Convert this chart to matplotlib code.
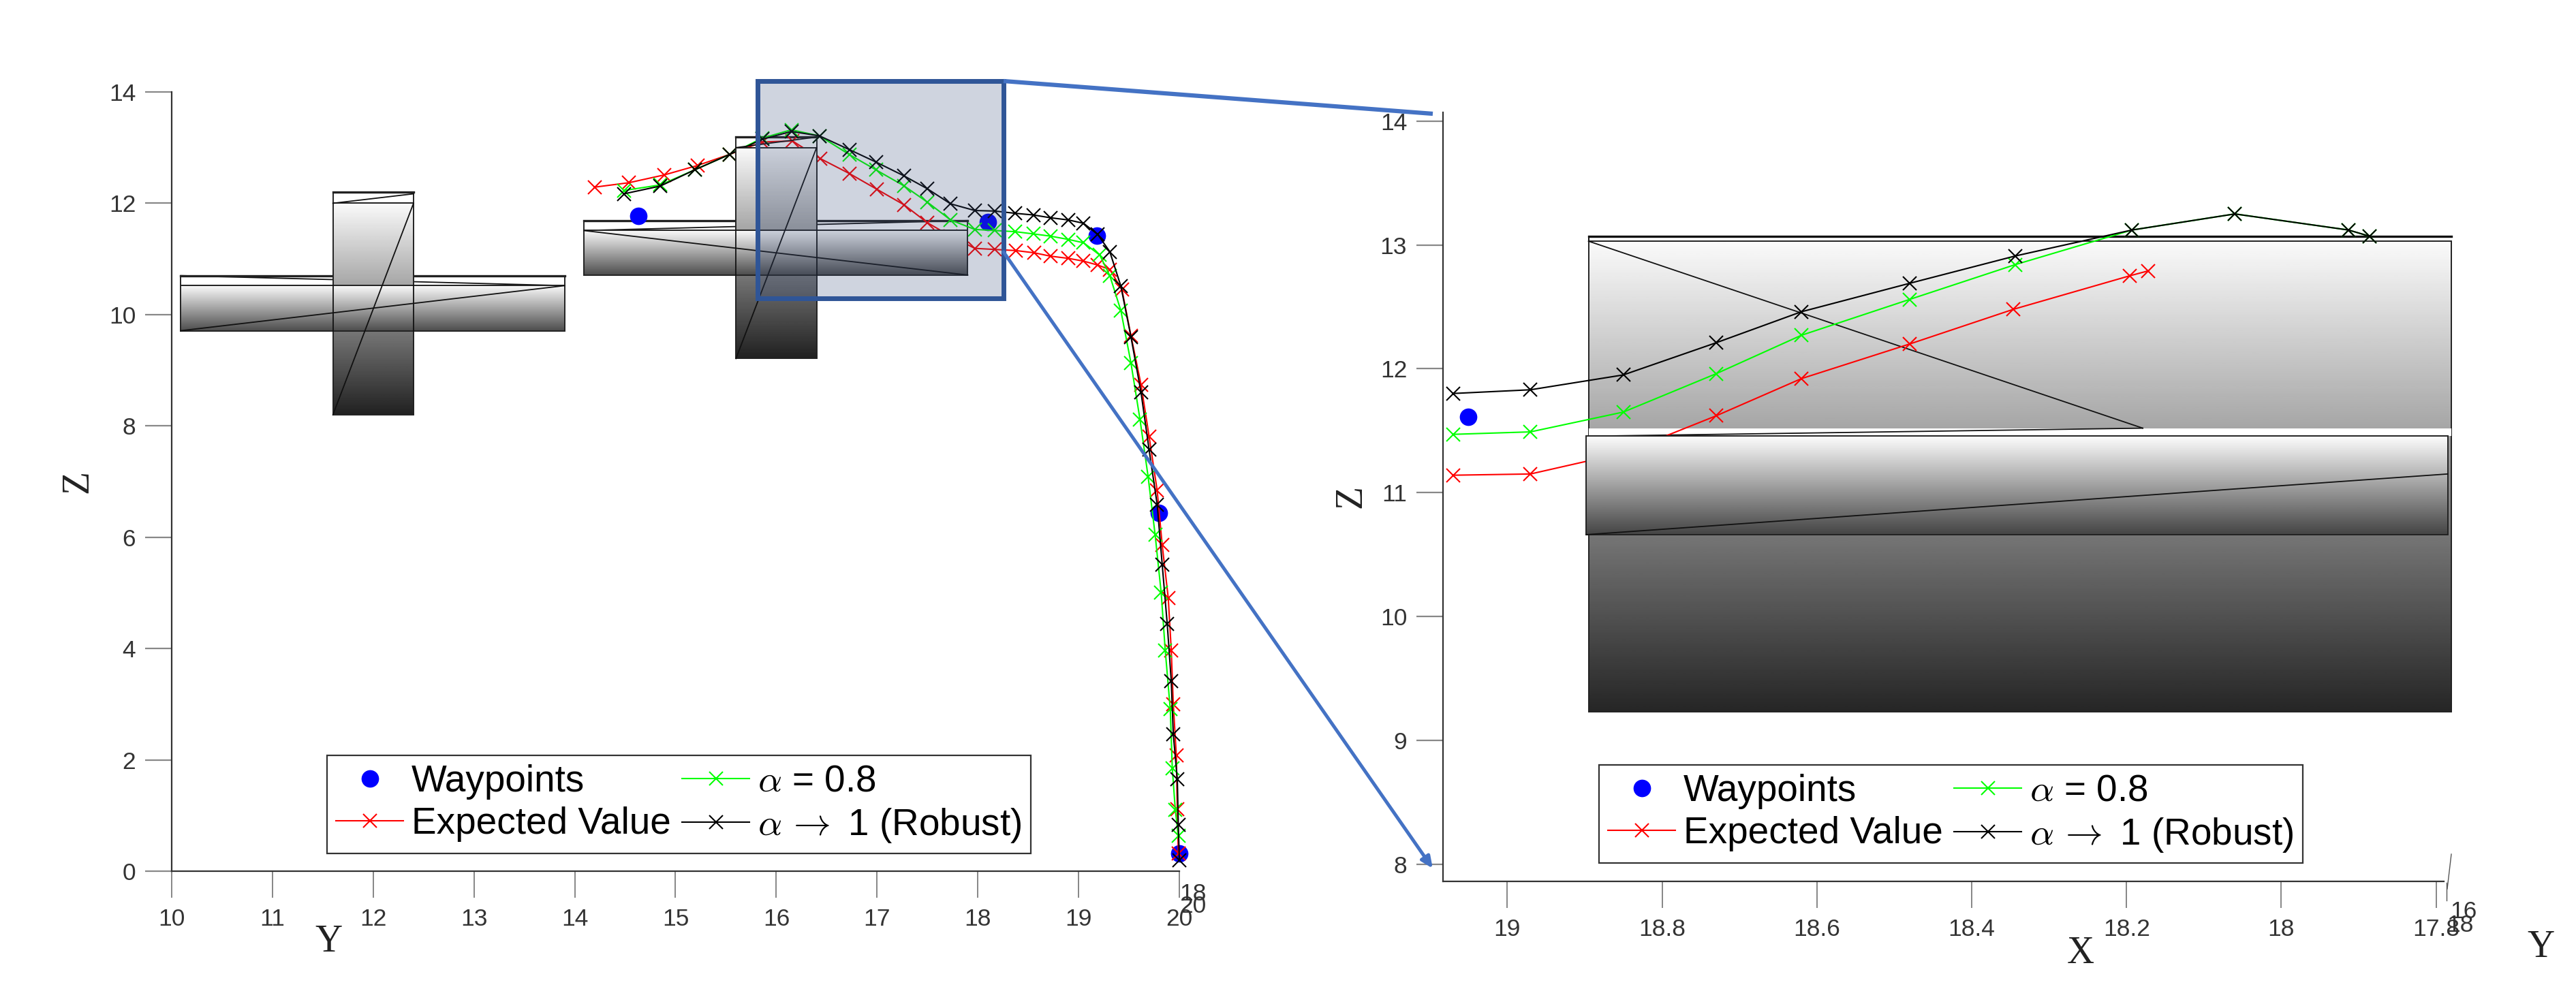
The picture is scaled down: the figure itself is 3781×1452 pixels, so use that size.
import numpy as np
import matplotlib
matplotlib.use('Agg')
import matplotlib.pyplot as plt
from matplotlib.patches import Rectangle

plt.rcParams['font.family'] = ['Liberation Sans', 'DejaVu Sans']
plt.rcParams['mathtext.fontset'] = 'cm'

# left panel (Y-Z view)
way_y = [14.63, 18.1, 19.18, 19.80, 20.0]
way_z = [11.77, 11.66, 11.42, 6.44, 0.32]

red_y = [14.20, 14.54, 14.89, 15.22, 15.54, 15.86, 16.16, 16.44, 16.73, 17.00, 17.27, 17.50, 17.73, 17.97,
         18.17, 18.38, 18.56, 18.72, 18.90, 19.05, 19.19, 19.31, 19.43, 19.52, 19.62, 19.70, 19.78, 19.83,
         19.89, 19.92, 19.94, 19.97, 19.98, 19.99]
red_z = [12.29, 12.37, 12.51, 12.68, 12.88, 13.10, 13.12, 12.80, 12.53, 12.25, 11.97, 11.65, 11.41, 11.19,
         11.17, 11.15, 11.11, 11.05, 11.01, 10.96, 10.89, 10.81, 10.45, 9.62, 8.74, 7.81, 6.84, 5.86,
         4.91, 3.97, 3.00, 2.08, 1.11, 0.32]

green_y = [14.49, 14.85, 15.19, 15.54, 15.86, 16.15, 16.43, 16.73, 16.99, 17.27, 17.50, 17.73, 17.97,
           18.17, 18.37, 18.55, 18.72, 18.90, 19.05, 19.21, 19.31, 19.42, 19.52, 19.61, 19.69, 19.76,
           19.82, 19.86, 19.91, 19.93, 19.96, 19.99]
green_z = [12.23, 12.33, 12.60, 12.88, 13.17, 13.32, 13.21, 12.87, 12.60, 12.31, 12.02, 11.70, 11.53,
           11.51, 11.49, 11.45, 11.41, 11.35, 11.29, 11.07, 10.70, 10.07, 9.13, 8.11, 7.09, 6.04,
           5.00, 3.97, 2.91, 1.85, 1.10, 0.64]

black_y = [14.49, 14.85, 15.19, 15.54, 15.86, 16.15, 16.43, 16.73, 16.99, 17.27, 17.50, 17.73, 17.97,
           18.17, 18.37, 18.55, 18.72, 18.90, 19.05, 19.19, 19.31, 19.42, 19.52, 19.62, 19.70, 19.78,
           19.83, 19.88, 19.92, 19.94, 19.98, 19.99, 20.0]
black_z = [12.17, 12.31, 12.60, 12.88, 13.15, 13.29, 13.21, 12.96, 12.74, 12.49, 12.26, 11.99, 11.87,
           11.86, 11.82, 11.79, 11.74, 11.70, 11.64, 11.44, 11.13, 10.51, 9.60, 8.60, 7.57, 6.59,
           5.51, 4.44, 3.41, 2.46, 1.65, 0.83, 0.19]

# right panel (X-Z zoom)
zoom_way_x = [19.05]
zoom_way_z = [11.61]
zoom_red_x = [19.07, 18.97, 18.85, 18.73, 18.62, 18.48, 18.346, 18.196, 18.172]
zoom_red_z = [11.14, 11.15, 11.32, 11.62, 11.92, 12.20, 12.48, 12.75, 12.79]
zoom_green_x = [19.07, 18.97, 18.85, 18.73, 18.62, 18.48, 18.344, 18.193, 18.06, 17.913, 17.886]
zoom_green_z = [11.47, 11.49, 11.65, 11.96, 12.27, 12.56, 12.84, 13.12, 13.25, 13.12, 13.07]
zoom_black_x = [19.07, 18.97, 18.85, 18.73, 18.62, 18.48, 18.344, 18.193, 18.06, 17.913, 17.886]
zoom_black_z = [11.80, 11.83, 11.95, 12.21, 12.46, 12.69, 12.91, 13.12, 13.25, 13.12, 13.07]

y_ticks = [10, 11, 12, 13, 14, 15, 16, 17, 18, 19, 20]
z_ticks = [0, 2, 4, 6, 8, 10, 12, 14]
zoom_x_ticks = [19, 18.8, 18.6, 18.4, 18.2, 18, 17.8]
zoom_x_labels = ['19', '18.8', '18.6', '18.4', '18.2', '18', '17.8']
zoom_z_ticks = [8, 9, 10, 11, 12, 13, 14]

W, H = 3781, 1452


def axes_px(x0, x1, y_top, y_bot):
    return fig.add_axes([x0 / W, 1 - y_bot / H, (x1 - x0) / W, (y_bot - y_top) / H])


def grad_box(ax, x0, x1, z0, z1, top, bot, zo):
    g = np.linspace(top, bot, 256).reshape(-1, 1)
    ax.imshow(g, cmap='gray', vmin=0, vmax=1, extent=(x0, x1, z0, z1), aspect='auto',
              interpolation='bilinear', zorder=zo, clip_on=False)
    ax.add_patch(Rectangle((x0, z0), x1 - x0, z1 - z0, fill=False, ec='#222222', lw=1.4, zorder=zo + 0.1,
                           clip_on=False))


def seg(ax, xs, zs, zo, lw=1.3):
    ax.plot(xs, zs, color='#111111', lw=lw, zorder=zo, clip_on=False)


def series(ax, x, z, col, label):
    ax.plot(x, z, color=col, marker='x', ms=14, mew=1.5, lw=1.5, label=label, zorder=3, clip_on=False)


def style(ax):
    for s in ['top', 'right']:
        ax.spines[s].set_visible(False)
    for s in ['left', 'bottom']:
        ax.spines[s].set_color('#333333')
        ax.spines[s].set_linewidth(1.6)
    ax.tick_params(axis='x', direction='out', length=28, width=1.1, color='#666666',
                   labelsize=25.5, labelcolor='#333333', pad=11)
    ax.tick_params(axis='y', direction='out', length=28, width=1.6, color='#888888',
                   labelsize=25.5, labelcolor='#333333', pad=10)


def add_legend(ax, anchor):
    h, l = ax.get_legend_handles_labels()
    leg = fig.legend(h, l, ncol=2, loc='lower left', bbox_to_anchor=anchor, bbox_transform=fig.transFigure,
                     fontsize=39.5, frameon=True, fancybox=False, framealpha=1, edgecolor='#333333',
                     borderaxespad=0, borderpad=0.24, handlelength=1.8, handletextpad=0.22,
                     columnspacing=0.3, labelspacing=0.18, numpoints=1)
    leg.get_frame().set_linewidth(1.6)
    leg.set_zorder(10)


fig = plt.figure(figsize=(W / 100, H / 100), dpi=100)

# left panel
ax1 = axes_px(252, 1731, 135, 1279)
grad_box(ax1, 11.6, 12.4, 8.2, 12.0, 0.98, 0.13, 4)
grad_box(ax1, 10.09, 13.9, 9.71, 10.52, 0.98, 0.30, 4.5)
grad_box(ax1, 15.6, 16.4, 9.21, 13.0, 0.98, 0.13, 4)
grad_box(ax1, 14.09, 17.9, 10.71, 11.51, 0.98, 0.30, 4.5)
for x0, x1, z0, z1 in [(10.09, 13.9, 10.52, 10.70), (11.6, 12.4, 12.0, 12.2),
                       (14.09, 17.9, 11.51, 11.69), (15.6, 16.4, 13.0, 13.19)]:
    ax1.add_patch(Rectangle((x0, z0), x1 - x0, z1 - z0, fill=False, ec='#222222', lw=1.4, zorder=2))
    ax1.plot([x0, x1], [z1, z1], color='#222222', lw=2.4, zorder=2)
# edges of the vertical blocks show through the horizontal ones
for x0, z0, z1 in [(11.6, 9.71, 10.52), (12.4, 9.71, 10.52), (15.6, 10.71, 11.51), (16.4, 10.71, 11.51)]:
    seg(ax1, [x0, x0], [z0, z1], 5)
seg(ax1, [10.09, 13.9], [9.71, 10.52], 5)
seg(ax1, [11.6, 12.4], [8.2, 12.0], 5)
seg(ax1, [11.6, 12.4], [12.0, 12.17], 5)
seg(ax1, [10.09, 13.9], [10.70, 10.52], 1.5)
seg(ax1, [14.09, 17.9], [11.51, 10.71], 5)
seg(ax1, [15.6, 16.4], [9.21, 13.0], 5)
seg(ax1, [15.6, 16.4], [13.0, 13.19], 5)
seg(ax1, [14.09, 17.9], [11.51, 11.69], 1.5)

ax1.plot(way_y, way_z, 'o', color='#0000ff', ms=18.5, mew=0, ls='none', label='Waypoints', zorder=2.5, clip_on=False)
series(ax1, red_y, red_z, '#ff0000', 'Expected Value')
series(ax1, green_y, green_z, '#00ff00', r'$\alpha$ = 0.8')
series(ax1, black_y, black_z, '#000000', r'$\alpha\,\rightarrow$ 1 (Robust)')

ax1.set_xlim(10, 20)
ax1.set_ylim(0, 14)
ax1.set_xticks(y_ticks)
ax1.set_yticks(z_ticks)
style(ax1)
ax1.set_xlabel('Y', family='Liberation Serif', fontsize=40, color='#222222', va='center')
ax1.set_ylabel('Z', family='Liberation Serif', fontsize=40, color='#222222', va='center')
ax1.xaxis.set_label_coords(0.1555, -0.091)
ax1.yaxis.set_label_coords(-0.093, 0.5)
add_legend(ax1, (480 / W, 1 - 1253 / H))

# right panel
ax2 = axes_px(2118, 3587, 165, 1294)
grad_box(ax2, 18.895, 17.78, 9.23, 13.03, 0.98, 0.15, 2)
seg(ax2, [18.895, 17.78], [13.07, 13.07], 2.5, lw=2.4)
seg(ax2, [18.895, 18.895], [13.03, 13.07], 2.5, lw=1.4)
ax2.add_patch(Rectangle((18.895, 11.455), 17.78 - 18.895, 0.065, fc='white', ec='none', zorder=2.2, clip_on=False))
grad_box(ax2, 18.898, 17.785, 10.66, 11.455, 0.99, 0.27, 4)
seg(ax2, [18.895, 18.179], [13.03, 11.52], 2.5)
seg(ax2, [18.895, 18.179], [11.455, 11.52], 2.5)
seg(ax2, [18.898, 17.785], [10.66, 11.15], 5)

ax2.plot(zoom_way_x, zoom_way_z, 'o', color='#0000ff', ms=18.5, mew=0, ls='none', label='Waypoints', zorder=2.5)
series(ax2, zoom_red_x, zoom_red_z, '#ff0000', 'Expected Value')
series(ax2, zoom_green_x, zoom_green_z, '#00ff00', r'$\alpha$ = 0.8')
series(ax2, zoom_black_x, zoom_black_z, '#000000', r'$\alpha\,\rightarrow$ 1 (Robust)')

ax2.set_xlim(19.083, 17.79)
ax2.set_ylim(7.86, 14.07)
ax2.set_xticks(zoom_x_ticks)
ax2.set_xticklabels(zoom_x_labels)
ax2.set_yticks(zoom_z_ticks)
style(ax2)
ax2.set_xlabel('X', family='Liberation Serif', fontsize=40, color='#222222', va='center')
ax2.set_ylabel('Z', family='Liberation Serif', fontsize=40, color='#222222', va='center')
ax2.xaxis.set_label_coords(0.6372, -0.094)
ax2.yaxis.set_label_coords(-0.092, 0.5)
add_legend(ax2, (2347 / W, 1 - 1267 / H))

# overlay for callout box, connector lines and stray 3d axis bits, in pixels
ov = fig.add_axes([0, 0, 1, 1], zorder=20)
ov.set_xlim(0, W)
ov.set_ylim(H, 0)
ov.axis('off')
ov.patch.set_alpha(0)
ov.add_patch(Rectangle((1112, 119), 361, 319, fc=(0.22, 0.30, 0.48, 0.24), ec='#2F5597', lw=5))
ov.plot([1473, 2103], [119, 167], color='#4472C4', lw=4.5, solid_capstyle='butt')
ov.annotate('', xy=(2103, 1275), xytext=(1473, 370),
            arrowprops=dict(arrowstyle='-|>,head_length=1.0,head_width=0.45', color='#4472C4', lw=3.6,
                            shrinkA=0, shrinkB=0))
for x, y, s in [(1751, 1313, '18'), (1751, 1331, '20'), (3616, 1338, '16'), (3611, 1359, '18')]:
    ov.text(x, y, s, fontsize=25.5, color='#333333', ha='center', va='center')
ov.plot([3591, 3591], [1296, 1322], color='#555555', lw=1.0)
ov.plot([3592, 3598], [1305, 1254], color='#555555', lw=1.0)
ov.text(3729, 1391, 'Y', family='Liberation Serif', fontsize=40, color='#222222', ha='center', va='center')

fig.savefig('out.png', dpi=100)
